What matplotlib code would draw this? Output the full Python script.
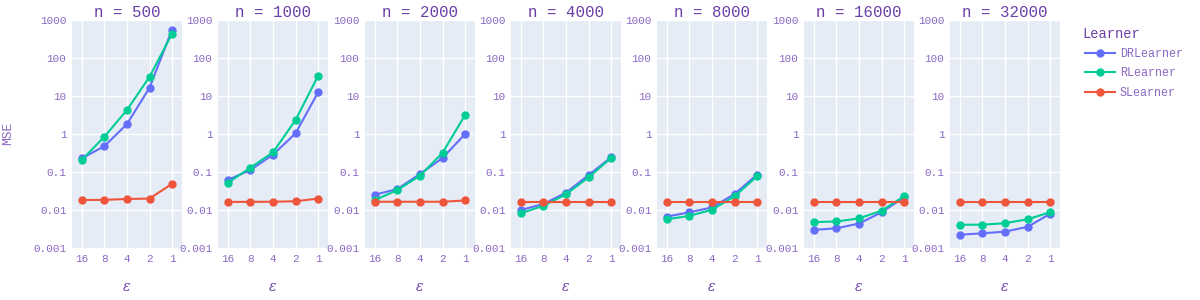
import matplotlib
matplotlib.use("Agg")
import matplotlib.pyplot as plt
from matplotlib.lines import Line2D
import numpy as np

eps_labels = ["16", "8", "4", "2", "1"]
sample_sizes = [500, 1000, 2000, 4000, 8000, 16000, 32000]
learners = ["DRLearner", "RLearner", "SLearner"]
colors = {"DRLearner": "#636efa", "RLearner": "#00cc96", "SLearner": "#ef553b"}

# MSE per sample size, per learner, for eps = 16, 8, 4, 2, 1
dr_mse = [
    [0.23, 0.48, 1.83, 16.5, 560],
    [0.062, 0.113, 0.286, 1.04, 12.5],
    [0.0253, 0.0357, 0.0886, 0.233, 1.0],
    [0.0100, 0.0144, 0.0286, 0.083, 0.243],
    [0.0067, 0.0087, 0.0117, 0.0264, 0.085],
    [0.0030, 0.0033, 0.0044, 0.0087, 0.0216],
    [0.00224, 0.00243, 0.0027, 0.0036, 0.0079],
]
r_mse = [
    [0.21, 0.85, 4.3, 32, 437],
    [0.052, 0.13, 0.33, 2.33, 34],
    [0.0183, 0.0336, 0.080, 0.32, 3.16],
    [0.0082, 0.013, 0.0258, 0.0725, 0.233],
    [0.0057, 0.0070, 0.0102, 0.0229, 0.077],
    [0.0048, 0.0050, 0.0060, 0.0096, 0.023],
    [0.0041, 0.0041, 0.0045, 0.0057, 0.0087],
]
s_mse = [
    [0.0183, 0.0185, 0.0195, 0.020, 0.049],
    [0.0163, 0.0164, 0.0165, 0.017, 0.020],
    [0.0165, 0.0165, 0.0165, 0.0165, 0.0178],
    [0.016, 0.016, 0.016, 0.016, 0.016],
    [0.016, 0.016, 0.016, 0.016, 0.016],
    [0.016, 0.016, 0.016, 0.016, 0.016],
    [0.016, 0.016, 0.016, 0.016, 0.016],
]
series = {"DRLearner": dr_mse, "RLearner": r_mse, "SLearner": s_mse}

W, H = 1200, 300
fig = plt.figure(figsize=(12, 3), dpi=100)
mono = ["Liberation Mono", "DejaVu Sans Mono"]
title_c = "#6b3fa8"
tick_c = "#8a68c4"
bg = "#e5ecf6"

px2pt = 72 / 100
lefts = [72, 218, 365, 511, 657, 804, 950]
ax_w, top, bot = 110, 20, 248
yticks = [0.001, 0.01, 0.1, 1, 10, 100, 1000]
ytlabels = ["0.001", "0.01", "0.1", "1", "10", "100", "1000"]
x = np.arange(len(eps_labels))

for i, n in enumerate(sample_sizes):
    ax = fig.add_axes([lefts[i] / W, 1 - bot / H, ax_w / W, (bot - top) / H])
    ax.set_facecolor(bg)
    ax.set_yscale("log")
    ax.set_ylim(0.001, 1000)
    ax.set_xlim(-0.44, 4.44)
    for name in learners:
        ax.plot(x, series[name][i], color=colors[name], lw=1.5, marker="o", ms=5,
                zorder=3, clip_on=False)
    ax.set_yticks(yticks)
    ax.set_yticklabels(ytlabels, family=mono, fontsize=11 * px2pt, color=tick_c)
    ax.yaxis.set_minor_locator(matplotlib.ticker.NullLocator())
    ax.set_xticks(x)
    ax.set_xticklabels(eps_labels, family=mono, fontsize=11 * px2pt, color=tick_c)
    ax.tick_params(length=0, pad=4)
    ax.grid(True, color="white", lw=1, zorder=0)
    ax.set_axisbelow(True)
    for s in ax.spines.values():
        s.set_visible(False)
    ax.set_title(f"n = {n}", family=mono, fontsize=15.8 * px2pt, color=title_c, pad=2)
    fig.text((lefts[i] + ax_w / 2) / W, 1 - 287 / H, "ε", ha="center", va="center",
             fontsize=14 * px2pt, color=title_c, family=["DejaVu Serif"], style="italic")

fig.text(8 / W, 1 - 133 / H, "MSE", rotation=90, ha="center", va="center",
         family=mono, fontsize=13 * px2pt, color=tick_c)

# legend
fig.text(1082 / W, 1 - 34 / H, "Learner", ha="left", va="center", family=mono,
         fontsize=13.7 * px2pt, color=title_c)
handles = [Line2D([0], [0], color=colors[n], lw=1.5, marker="o", ms=5) for n in learners]
leg = fig.legend(handles, learners, loc="upper left", bbox_to_anchor=(1080 / W, 1 - 43 / H),
                 frameon=False, prop={"family": mono, "size": 11.7 * px2pt},
                 handlelength=2.6, labelspacing=0.65, handletextpad=0.4, borderaxespad=0)
for t in leg.get_texts():
    t.set_color(tick_c)

fig.savefig("out.png", dpi=100, facecolor="white")
